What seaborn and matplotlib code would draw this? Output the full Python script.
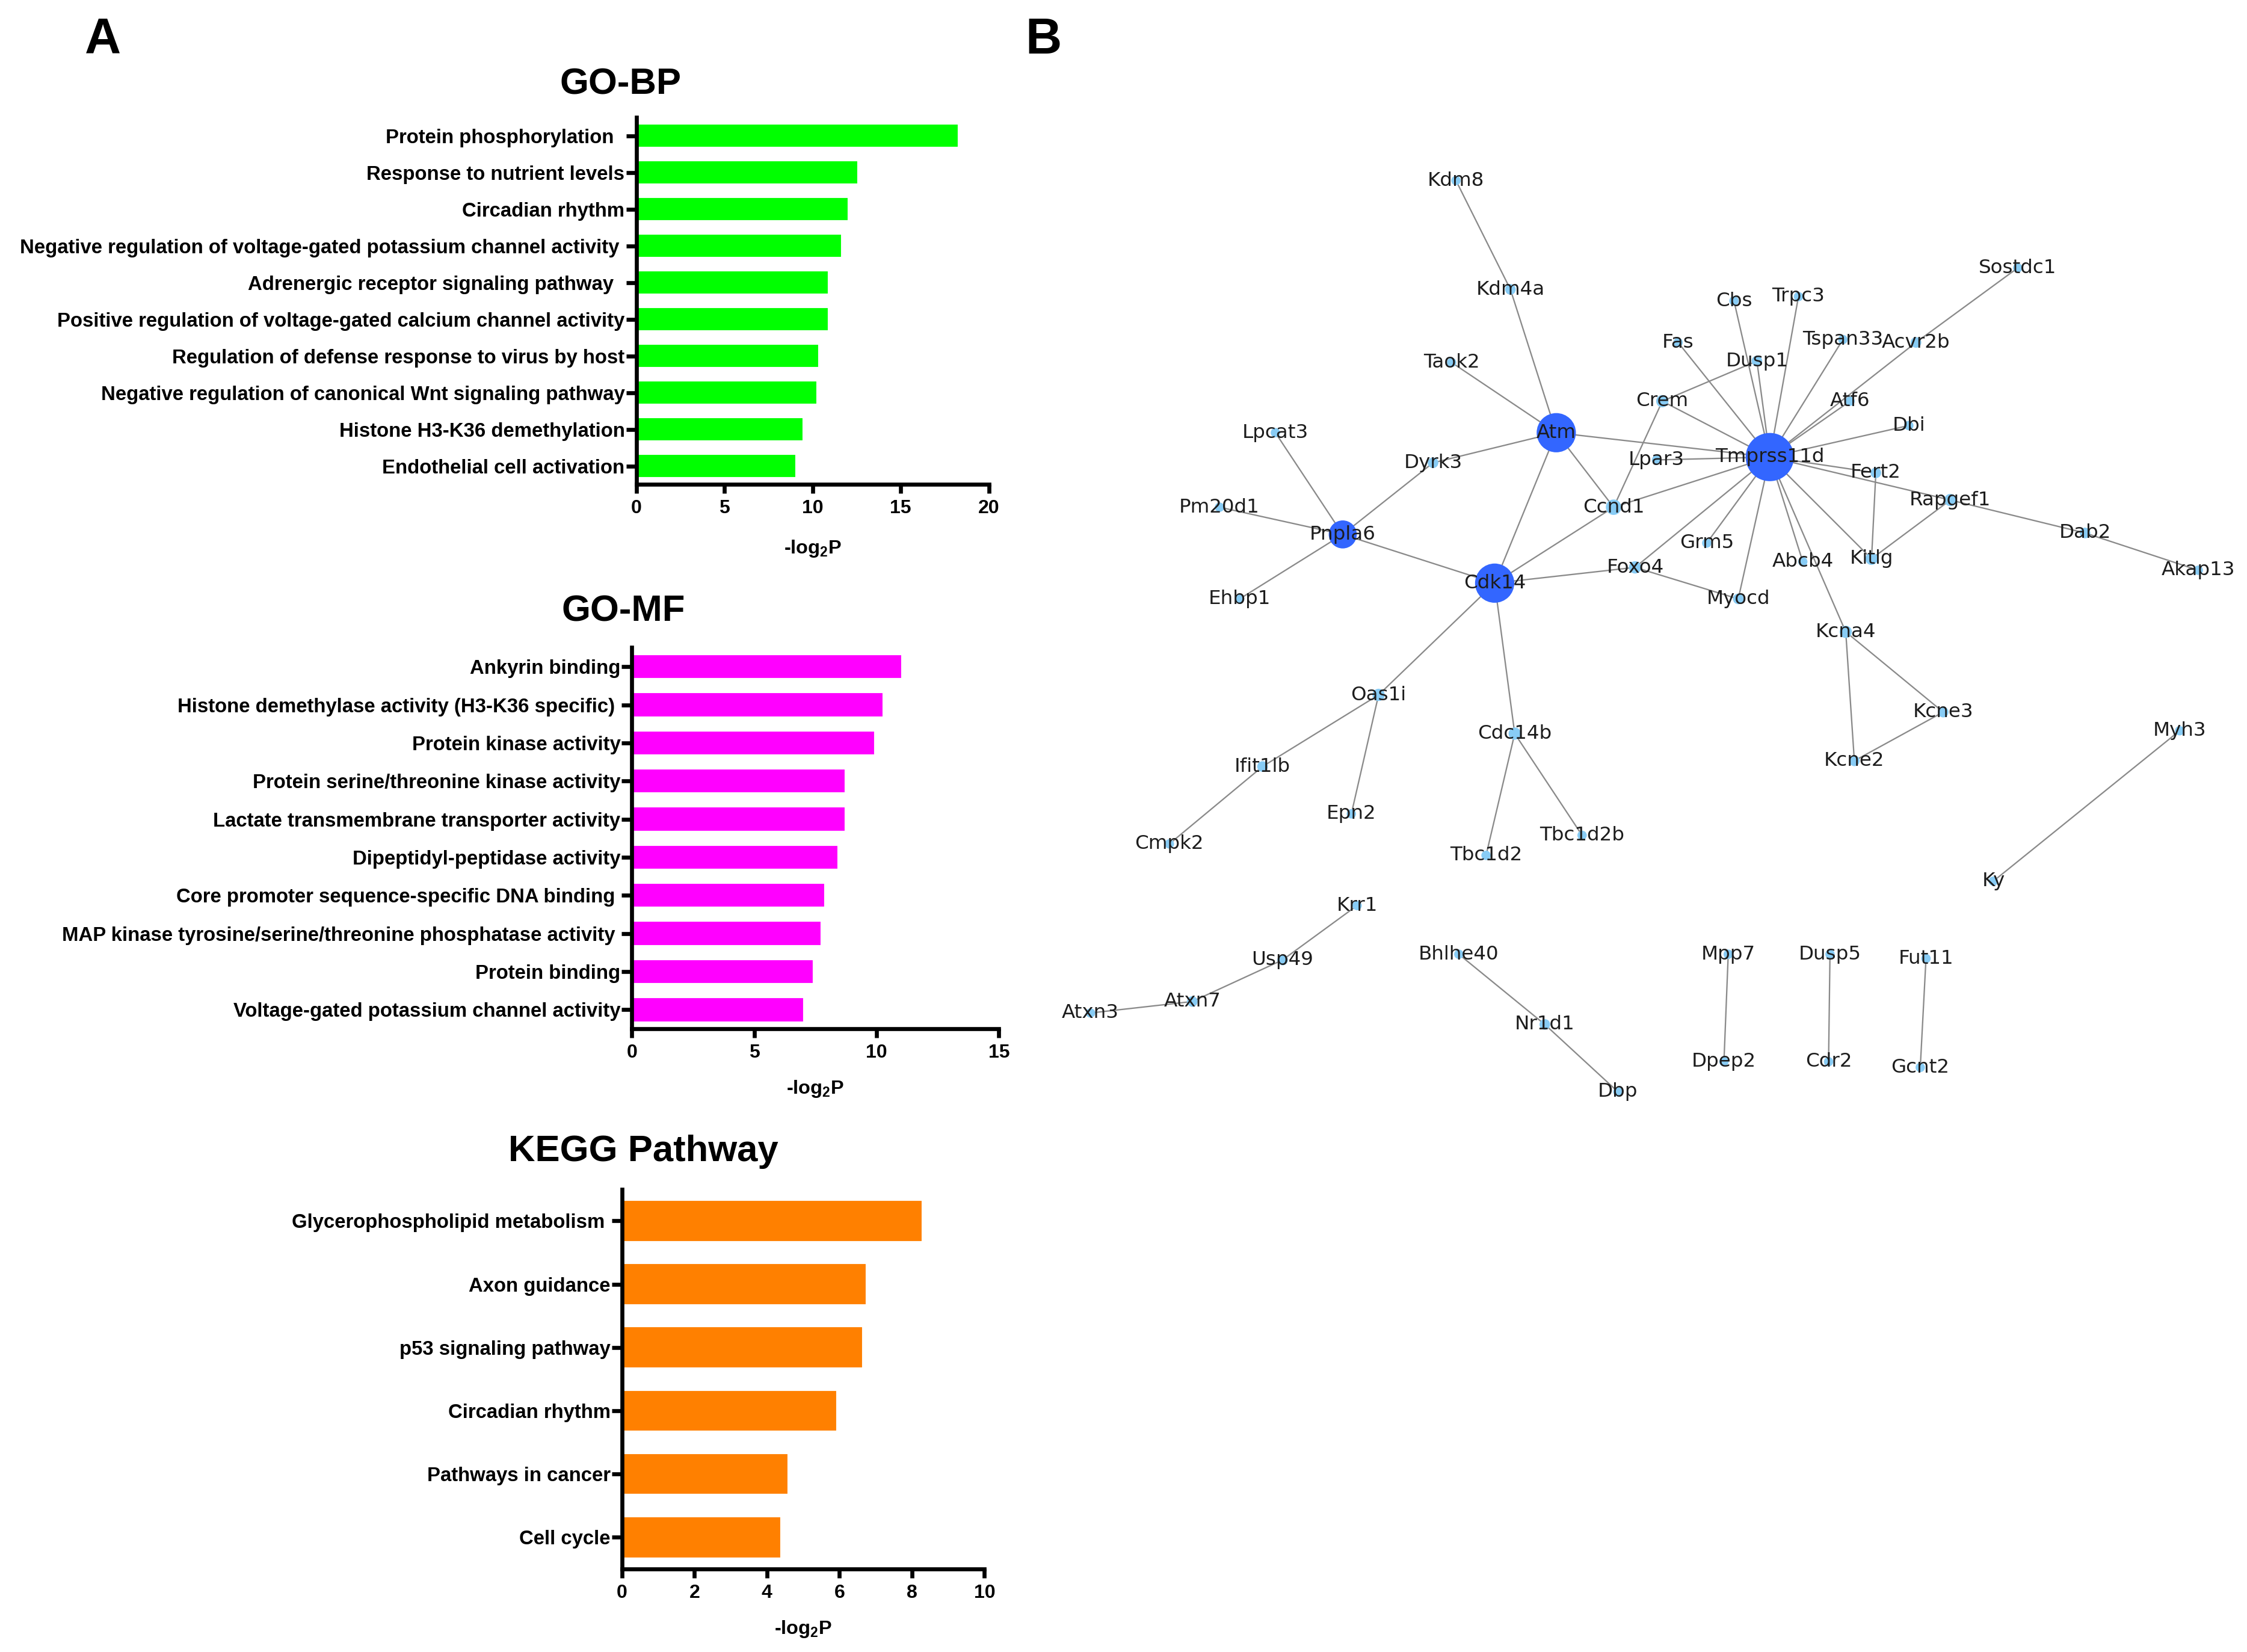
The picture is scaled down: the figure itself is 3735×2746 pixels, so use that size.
import matplotlib.pyplot as plt
import numpy as np
import pandas as pd
import seaborn as sns
from matplotlib.collections import LineCollection

# ---------------- panel A: enrichment bars (-log2 P) ----------------
bp_terms = [
    "Protein phosphorylation  ",
    "Response to nutrient levels",
    "Circadian rhythm",
    "Negative regulation of voltage-gated potassium channel activity ",
    "Adrenergic receptor signaling pathway  ",
    "Positive regulation of voltage-gated calcium channel activity",
    "Regulation of defense response to virus by host",
    "Negative regulation of canonical Wnt signaling pathway",
    "Histone H3-K36 demethylation",
    "Endothelial cell activation",
]
bp_vals = [18.3, 12.6, 12.05, 11.7, 10.95, 10.95, 10.4, 10.3, 9.5, 9.1]

mf_terms = [
    "Ankyrin binding",
    "Histone demethylase activity (H3-K36 specific) ",
    "Protein kinase activity",
    "Protein serine/threonine kinase activity",
    "Lactate transmembrane transporter activity",
    "Dipeptidyl-peptidase activity",
    "Core promoter sequence-specific DNA binding ",
    "MAP kinase tyrosine/serine/threonine phosphatase activity ",
    "Protein binding",
    "Voltage-gated potassium channel activity",
]
mf_vals = [11.05, 10.3, 9.95, 8.75, 8.75, 8.45, 7.9, 7.75, 7.45, 7.05]

kegg_terms = [
    "Glycerophospholipid metabolism ",
    "Axon guidance",
    "p53 signaling pathway",
    "Circadian rhythm",
    "Pathways in cancer",
    "Cell cycle",
]
kegg_vals = [8.3, 6.75, 6.65, 5.95, 4.6, 4.4]

# ---------------- panel B: interaction network ----------------
gene_names = [
    "Kdm8", "Kdm4a", "Taok2", "Atm", "Lpcat3", "Dyrk3", "Pm20d1", "Pnpla6",
    "Ehbp1", "Cdk14", "Ccnd1", "Crem", "Lpar3", "Fas", "Cbs", "Trpc3",
    "Dusp1", "Tspan33", "Acvr2b", "Sostdc1", "Atf6", "Dbi", "Tmprss11d",
    "Fert2", "Rapgef1", "Dab2", "Akap13", "Kitlg", "Abcb4", "Grm5", "Foxo4",
    "Myocd", "Kcna4", "Kcne3", "Kcne2", "Oas1i", "Ifit1lb", "Cmpk2", "Epn2",
    "Cdc14b", "Tbc1d2", "Tbc1d2b", "Myh3", "Ky", "Krr1", "Usp49", "Atxn7",
    "Atxn3", "Bhlhe40", "Nr1d1", "Dbp", "Mpp7", "Dpep2", "Dusp5", "Cdr2",
    "Fut11", "Gcnt2",
]
gene_x = [
    1016, 1054, 1013, 1086, 890, 1000, 851, 937,
    865, 1043, 1126, 1160, 1156, 1171, 1210, 1255,
    1226, 1286, 1337, 1408, 1291, 1332, 1235,
    1309, 1361, 1455, 1534, 1306, 1258, 1191, 1141,
    1213, 1288, 1356, 1294, 962, 881, 816, 943,
    1057, 1037, 1104, 1521, 1391, 947, 895, 832,
    761, 1018, 1078, 1129, 1206, 1203, 1277, 1276,
    1344, 1340,
]
gene_y = [
    126, 202, 253, 302, 302, 323, 354, 373,
    418, 407, 354, 280, 321, 239, 210, 207,
    252, 237, 239, 187, 280, 297, 319,
    330, 349, 372, 398, 390, 392, 379, 396,
    418, 441, 497, 531, 485, 535, 589, 568,
    512, 597, 583, 510, 615, 632, 670, 699,
    707, 666, 715, 762, 666, 741, 666, 741,
    669, 745,
]
edges = [
    ("Kdm8", "Kdm4a"), ("Kdm4a", "Atm"), ("Taok2", "Atm"), ("Atm", "Dyrk3"),
    ("Atm", "Tmprss11d"), ("Atm", "Ccnd1"), ("Atm", "Cdk14"),
    ("Dyrk3", "Pnpla6"), ("Lpcat3", "Pnpla6"), ("Pm20d1", "Pnpla6"),
    ("Ehbp1", "Pnpla6"), ("Pnpla6", "Cdk14"), ("Cdk14", "Ccnd1"),
    ("Cdk14", "Foxo4"), ("Cdk14", "Oas1i"), ("Cdk14", "Cdc14b"),
    ("Ccnd1", "Crem"), ("Ccnd1", "Tmprss11d"), ("Crem", "Dusp1"),
    ("Crem", "Tmprss11d"), ("Lpar3", "Tmprss11d"), ("Fas", "Tmprss11d"),
    ("Cbs", "Tmprss11d"), ("Dusp1", "Tmprss11d"), ("Trpc3", "Tmprss11d"),
    ("Tspan33", "Tmprss11d"), ("Sostdc1", "Acvr2b"), ("Acvr2b", "Tmprss11d"),
    ("Atf6", "Tmprss11d"), ("Dbi", "Tmprss11d"), ("Fert2", "Tmprss11d"),
    ("Rapgef1", "Tmprss11d"), ("Fert2", "Kitlg"), ("Rapgef1", "Kitlg"),
    ("Rapgef1", "Dab2"), ("Dab2", "Akap13"), ("Kitlg", "Tmprss11d"),
    ("Abcb4", "Tmprss11d"), ("Kcna4", "Tmprss11d"), ("Grm5", "Tmprss11d"),
    ("Foxo4", "Tmprss11d"), ("Myocd", "Tmprss11d"), ("Foxo4", "Myocd"),
    ("Kcna4", "Kcne3"), ("Kcna4", "Kcne2"), ("Kcne3", "Kcne2"),
    ("Oas1i", "Ifit1lb"), ("Oas1i", "Epn2"), ("Ifit1lb", "Cmpk2"),
    ("Cdc14b", "Tbc1d2"), ("Cdc14b", "Tbc1d2b"), ("Myh3", "Ky"),
    ("Krr1", "Usp49"), ("Usp49", "Atxn7"), ("Atxn7", "Atxn3"),
    ("Bhlhe40", "Nr1d1"), ("Nr1d1", "Dbp"),
    ("Mpp7", "Dpep2"), ("Dusp5", "Cdr2"), ("Fut11", "Gcnt2"),
]

# ---------------- figure ----------------
sns.set_theme(style="ticks")
plt.rcParams["font.family"] = ["Liberation Sans", "DejaVu Sans"]
plt.rcParams["text.color"] = "black"
plt.rcParams["xtick.labelcolor"] = "black"
plt.rcParams["ytick.labelcolor"] = "black"
plt.rcParams["mathtext.fontset"] = "custom"
plt.rcParams["mathtext.rm"] = "Liberation Sans"
plt.rcParams["mathtext.bf"] = "Liberation Sans:bold"

W, H = 1568, 1153  # layout grid (reference pixels at preview scale)
fig = plt.figure(figsize=(3735 / 300, 2746 / 300), dpi=300)


def box(x0, y0, x1, y1):
    return [x0 / W, 1 - y1 / H, (x1 - x0) / W, (y1 - y0) / H]


def bar_panel(rect, terms, vals, color, xmax, step, title, title_xy, xlab_y):
    ax = fig.add_axes(box(*rect))
    sns.barplot(x=vals, y=terms, orient="h", color=color, saturation=1,
                width=0.67, ax=ax)
    ax.set_xlim(0, xmax)
    ax.set_xticks(np.arange(0, xmax + 0.01, step))
    sns.despine(ax=ax)
    for s in ("left", "bottom"):
        ax.spines[s].set_linewidth(1.6)
        ax.spines[s].set_color("black")
    ax.tick_params(axis="y", left=True, length=4, width=1.6, pad=0.6,
                   labelsize=7.9, color="black")
    ax.tick_params(axis="x", bottom=True, length=3.5, width=1.6, pad=2.5,
                   labelsize=7.7, color="black")
    for lab in ax.get_xticklabels() + ax.get_yticklabels():
        lab.set_fontweight("bold")
    ax.set_xlabel("")
    ax.set_ylabel("")
    fig.text(title_xy[0] / W, 1 - title_xy[1] / H, title, ha="center",
             va="center", fontsize=14.8, fontweight="bold")
    mid = (rect[0] + rect[2]) / 2
    fig.text(mid / W, 1 - xlab_y / H, r"-log$_{\mathbf{2}}$P", ha="center",
             va="center", fontsize=7.8, fontweight="bold")
    return ax


bar_panel((444, 82, 690, 338), bp_terms, bp_vals, "#00FF00", 20, 5,
          "GO-BP", (433, 59), 383)
bar_panel((441, 452, 697, 718), mf_terms, mf_vals, "#FF00FF", 15, 5,
          "GO-MF", (435, 427), 760)
bar_panel((434, 830, 687, 1095), kegg_terms, kegg_vals, "#FF8000", 10, 2,
          "KEGG Pathway", (449, 804), 1137)

fig.text(72 / W, 1 - 28 / H, "A", ha="center", va="center", fontsize=20,
         fontweight="bold")
fig.text(728 / W, 1 - 28 / H, "B", ha="center", va="center", fontsize=20,
         fontweight="bold")

# network
nodes = pd.DataFrame({"gene": gene_names, "x": gene_x, "y": gene_y})
deg = pd.Series([g for e in edges for g in e]).value_counts()
nodes["degree"] = nodes["gene"].map(deg).fillna(0).astype(int)
nodes["hub"] = nodes["degree"] >= 5
pos = nodes.set_index("gene")[["x", "y"]]

axn = fig.add_axes(box(730, 90, 1568, 800))
axn.axis("off")

segs = [[pos.loc[a].values, pos.loc[b].values] for a, b in edges]
axn.add_collection(LineCollection(segs, colors="#8a8a8a", linewidths=0.55,
                                  zorder=1))
size_map = {1: 14, 2: 18, 3: 24, 4: 38, 5: 125, 6: 245, 20: 370}
sns.scatterplot(data=nodes, x="x", y="y", size="degree", sizes=size_map,
                hue="hub", palette={True: "#3366FF", False: "#88CCF5"},
                linewidth=0, legend=False, zorder=2, ax=axn)
for g, x, y in zip(gene_names, gene_x, gene_y):
    axn.text(x, y, g, ha="center", va="center", fontsize=7.8,
             family="DejaVu Sans", color="#1c1c1c", zorder=3)
axn.set_xlim(730, 1568)
axn.set_ylim(800, 90)

fig.savefig("out.png", dpi=300)
